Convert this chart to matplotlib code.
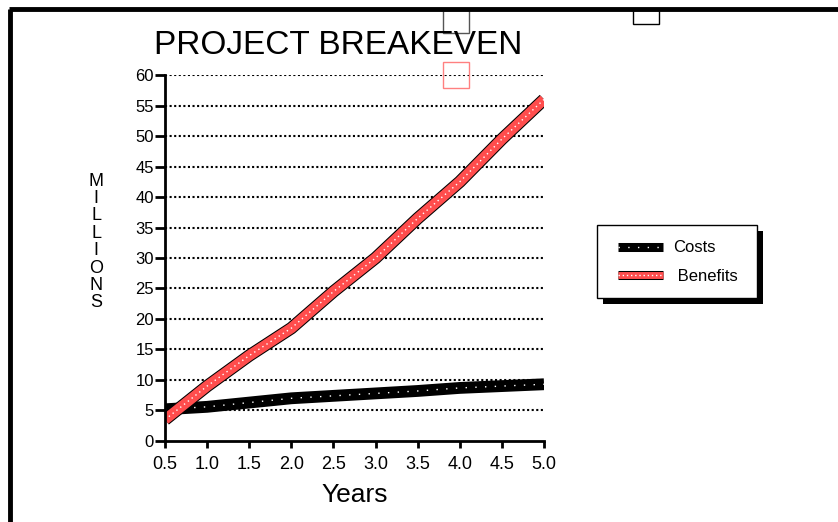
import matplotlib
matplotlib.use('Agg')
import matplotlib.pyplot as plt
from matplotlib.patches import Rectangle
from matplotlib.lines import Line2D
from matplotlib.legend_handler import HandlerTuple

plt.rcParams['font.family'] = ['Liberation Sans', 'DejaVu Sans']

# chart data
years = [0.5, 1.0, 1.5, 2.0, 2.5, 3.0, 3.5, 4.0, 4.5, 5.0]
costs = [5.2, 5.6, 6.3, 7.0, 7.4, 7.8, 8.2, 8.7, 9.0, 9.3]
benefits = [3.5, 9.0, 14.0, 18.5, 24.5, 30.0, 36.5, 42.5, 49.5, 56.0]
x_ticks = [0.5, 1.0, 1.5, 2.0, 2.5, 3.0, 3.5, 4.0, 4.5, 5.0]
y_ticks = [0, 5, 10, 15, 20, 25, 30, 35, 40, 45, 50, 55, 60]

fig = plt.figure(figsize=(8.38, 5.22), dpi=100)
ax = fig.add_axes([0.1969, 0.1552, 0.4523, 0.7011])

# dotted gridlines
for v in y_ticks[1:]:
    ax.axhline(v, color='black', lw=1.5, ls=(0, (1, 1.2)), zorder=1)

# costs: thick black band with white dots
c1, = ax.plot(years, costs, color='black', lw=8.5, solid_capstyle='butt', zorder=3)
c2, = ax.plot(years, costs, color='white', lw=1.0, ls=(0, (1, 6)), zorder=4)

# benefits: red band with black outline and white dots
b1, = ax.plot(years, benefits, color='black', lw=9.0, solid_capstyle='butt', zorder=5)
b2, = ax.plot(years, benefits, color='#ff4d4d', lw=7.5, solid_capstyle='butt', zorder=6)
b3, = ax.plot(years, benefits, color='white', lw=1.0, ls=(0, (1, 2.5)), zorder=7)

ax.set_xlim(0.5, 5.0)
ax.set_ylim(0, 60)
ax.set_xticks(x_ticks)
ax.set_xticklabels(['%.1f' % t for t in x_ticks])
ax.set_yticks(y_ticks)
ax.tick_params(axis='x', direction='out', length=5, width=2, labelsize=13, pad=6)
ax.tick_params(axis='y', direction='out', length=7, width=2, labelsize=12, pad=1)
for s in ['top', 'right']:
    ax.spines[s].set_visible(False)
ax.spines['left'].set_linewidth(2)
ax.spines['bottom'].set_linewidth(2)
ax.spines['left'].set_zorder(8)
ax.set_xlabel('Years', fontsize=19, labelpad=7)

# title and stacked y label
fig.text(0.404, 1 - 46 / 522, 'PROJECT BREAKEVEN', fontsize=24, ha='center', va='center')
fig.text(0.1146, 1 - 242 / 522, '\n'.join('MILLIONS'), fontsize=13, ha='center',
         va='center', linespacing=1.03)

# legend with hard black shadow
fig.patches.append(Rectangle((603 / 838, 1 - 304 / 522), 160 / 838, 73 / 522,
                             transform=fig.transFigure, facecolor='black',
                             edgecolor='none', zorder=1))
fig.patches.append(Rectangle((597 / 838, 1 - 298 / 522), 160 / 838, 73 / 522,
                             transform=fig.transFigure, facecolor='white',
                             edgecolor='black', lw=1, zorder=2))
lc1 = Line2D([], [], color='black', lw=6.5, solid_capstyle='butt')
lc2 = Line2D([], [], color='white', lw=1.0, ls=(0, (1, 6)))
lb1 = Line2D([], [], color='black', lw=6.5, solid_capstyle='butt')
lb2 = Line2D([], [], color='#ff4d4d', lw=5, solid_capstyle='butt')
lb3 = Line2D([], [], color='white', lw=1.0, ls=(0, (1, 2)))
fig.legend([(lc1, lc2), (lb1, lb2, lb3)], ['Costs', ' Benefits'],
           handler_map={tuple: HandlerTuple(ndivide=1)},
           loc='center', bbox_to_anchor=(678 / 838, 1 - 262 / 522),
           frameon=False, fontsize=12, handlelength=2.7, labelspacing=0.8,
           handletextpad=0.6)

# page border and stray empty boxes
fig.add_artist(Line2D([10 / 838, 10 / 838], [0, 1 - 9 / 522], color='black', lw=3.5,
                      transform=fig.transFigure, solid_capstyle='butt'))
fig.add_artist(Line2D([8.5 / 838, 1], [1 - 9 / 522, 1 - 9 / 522], color='black', lw=3.5,
                      transform=fig.transFigure, solid_capstyle='butt'))
fig.patches.append(Rectangle((443 / 838, 1 - 33 / 522), 26 / 838, 23 / 522,
                             transform=fig.transFigure, facecolor='none',
                             edgecolor='#555555', lw=1))
fig.patches.append(Rectangle((633 / 838, 1 - 24 / 522), 26 / 838, 14 / 522,
                             transform=fig.transFigure, facecolor='none',
                             edgecolor='black', lw=1))
fig.patches.append(Rectangle((443 / 838, 1 - 88 / 522), 26 / 838, 26 / 522,
                             transform=fig.transFigure, facecolor='none',
                             edgecolor='#ff8080', lw=1, zorder=10))

fig.savefig('out.png', dpi=100)
